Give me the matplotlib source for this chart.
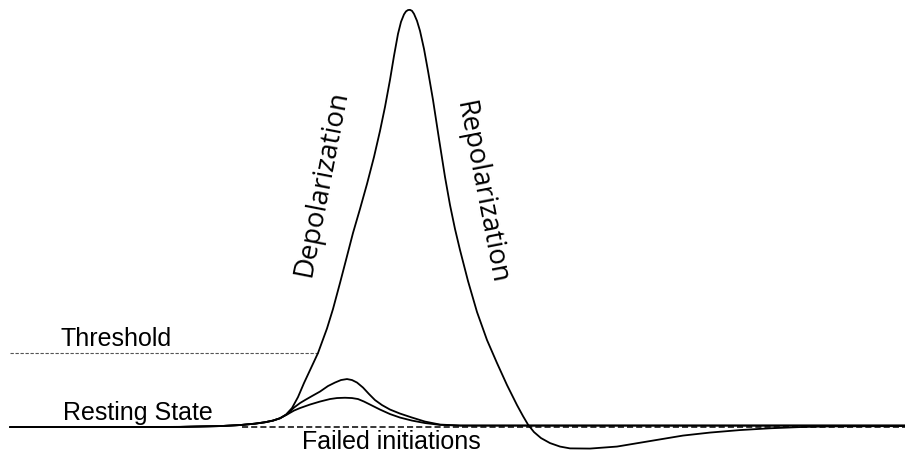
import os
import numpy as np
import matplotlib.pyplot as plt
from matplotlib import font_manager as fm

# Tramo común en reposo (tiempo en ms, potencial en mV)
t_pie = [0.10, 1.00, 1.80, 2.20, 2.40, 2.55, 2.65, 2.73, 2.80]
v_pie = [-70.0, -70.0, -69.95, -69.74, -69.47, -69.10, -68.73, -68.29, -67.68]

# Potencial de acción
t_ap = [2.86, 2.92, 2.98, 3.04, 3.11, 3.18, 3.22, 3.27, 3.33, 3.40, 3.46, 3.53,
        3.60, 3.67, 3.74, 3.80, 3.85, 3.90, 3.94, 3.98, 4.01, 4.04, 4.06, 4.08,
        4.10, 4.12, 4.14, 4.17, 4.20, 4.24, 4.28, 4.33, 4.39, 4.45, 4.50, 4.55,
        4.60, 4.68, 4.77, 4.87, 4.97, 5.07, 5.17, 5.23, 5.28, 5.34, 5.41, 5.50,
        5.60, 5.70, 5.90, 6.17, 6.50, 6.83, 7.10, 7.40, 7.70, 8.00, 8.30, 9.05]
v_ap = [-66.70, -64.99, -62.09, -58.39, -54.44, -50.48, -47.60, -44.00, -38.87, -32.01, -25.95, -18.82,
        -12.49, -5.90, 1.22, 8.08, 14.41, 21.54, 27.87, 33.67, 36.83, 38.81, 39.60, 39.95,
        40.00, 39.74, 38.95, 37.10, 34.46, 29.71, 23.91, 16.26, 5.97, -4.05, -11.44, -17.77,
        -23.31, -31.49, -39.66, -47.05, -53.12, -58.92, -64.20, -67.10, -69.34, -71.32, -72.90, -74.22,
        -75.14, -75.62, -75.67, -75.14, -73.69, -72.24, -71.45, -70.79, -70.32, -70.00, -69.82, -69.74]

# Iniciaciones fallidas
t_fallo1 = [2.87, 2.94, 3.00, 3.05, 3.12, 3.20, 3.28, 3.35, 3.41, 3.47, 3.52, 3.57,
            3.63, 3.69, 3.75, 3.82, 3.90, 4.00, 4.12, 4.25, 4.40, 4.60, 9.05]
v_fallo1 = [-66.62, -64.86, -63.67, -62.88, -61.82, -60.64, -59.18, -58.26, -57.60, -57.34, -57.60, -58.26,
            -59.58, -61.29, -62.88, -64.20, -65.38, -66.44, -67.49, -68.55, -69.34, -69.60, -69.60]
t_fallo2 = [2.87, 2.94, 3.00, 3.10, 3.20, 3.30, 3.37, 3.45, 3.52, 3.58, 3.64, 3.70,
            3.80, 3.90, 4.00, 4.12, 4.25, 4.40, 4.60, 9.05]
v_fallo2 = [-66.70, -65.65, -64.99, -64.06, -63.27, -62.61, -62.35, -62.27, -62.35, -62.61, -63.27, -64.06,
            -65.38, -66.57, -67.49, -68.29, -68.94, -69.42, -69.60, -69.60]

umbral = -50.5      # mV
reposo = -70.1      # mV
t_reposo = [2.42, 9.05]

fig = plt.figure(figsize=(9.05, 4.54), dpi=100)
ax = fig.add_axes([0, 0, 1, 1])
ax.set_xlim(0, 9.05)
ax.set_ylim(-77.1, 42.6)
ax.axis('off')

# Línea de umbral hasta el cruce con la subida
t_sub = t_pie + t_ap
v_sub = v_pie + v_ap
i_max = int(np.argmax(v_sub))
t_umbral = np.interp(umbral, v_sub[:i_max + 1], t_sub[:i_max + 1])
ax.plot([t_pie[0], t_umbral], [umbral, umbral], color='#555555', lw=0.8,
        dashes=(3, 1.5))

ax.plot(t_reposo, [reposo, reposo], color='black', lw=1.1, dashes=(4, 2))

estilo = dict(color='black', lw=1.3, solid_joinstyle='round', solid_capstyle='round')
ax.plot(t_pie + t_fallo1, v_pie + v_fallo1, **estilo)
ax.plot(t_pie + t_fallo2, v_pie + v_fallo2, **estilo)
ax.plot(t_sub, v_sub, **estilo)

fuente = ['Liberation Sans', 'DejaVu Sans']
ax.text(0.60, -48.6, 'Threshold', family=fuente, fontsize=18, va='baseline')
ax.text(0.63, -68.15, 'Resting State', family=fuente, fontsize=18, va='baseline')
ax.text(3.02, -75.8, 'Failed initiations', family=fuente, fontsize=18, va='baseline')

# Open Sans Regular (recta)
archivos = [f.fname for f in fm.fontManager.ttflist
            if os.path.basename(f.fname) in ('OpenSans-Regular.ttf', 'OpenSans[wdth,wght].ttf')]
if archivos:
    fp = fm.FontProperties(fname=sorted(archivos, key=lambda a: 'Regular' not in a)[0], size=20)
else:
    fp = fm.FontProperties(family='Noto Sans', size=20)

ax.text(3.22, -5.9, 'Depolarization', fontproperties=fp,
        rotation=79, ha='center', va='center', rotation_mode='anchor')
ax.text(4.81, -8.2, 'Repolarization', fontproperties=fp,
        rotation=-79, ha='center', va='center', rotation_mode='anchor')

fig.savefig('out.png', dpi=100)
